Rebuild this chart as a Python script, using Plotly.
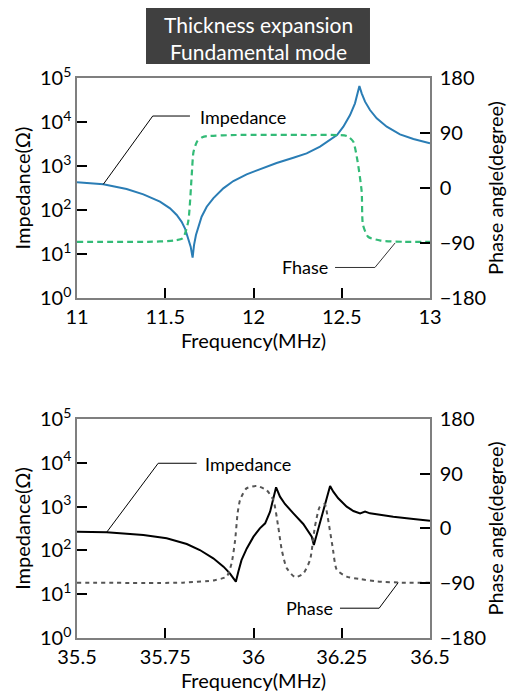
import plotly.graph_objects as go
from plotly.subplots import make_subplots

# ---------------- data: top panel (fundamental mode) ----------------
f_top_imp = [11.0, 11.149, 11.281, 11.376, 11.470, 11.527, 11.565, 11.593, 11.612, 11.631, 11.644,
             11.655, 11.663, 11.674, 11.687, 11.706, 11.735, 11.772, 11.829, 11.886, 11.961,
             12.037, 12.131, 12.226, 12.301, 12.377, 12.433, 12.473, 12.509, 12.547, 12.575,
             12.600, 12.613, 12.632, 12.660, 12.698, 12.755, 12.830, 12.906, 13.0]
z_top = [426, 383, 300, 227, 155, 109, 77, 54, 38, 22.7, 14.7,
         8.26, 16, 27, 41.8, 70.5, 119, 184, 311, 456, 647,
         855, 1170, 1545, 1940, 2750, 3900, 5070, 7830, 14400, 26600,
         65800, 44900, 29000, 18700, 12100, 7830, 5250, 4110, 3275]

f_top_ph = [11.0, 11.4, 11.55, 11.6, 11.63, 11.65, 11.66, 11.68, 11.71, 11.74, 11.9, 12.3,
            12.53, 12.565, 12.59, 12.613, 12.62, 12.65, 12.72, 12.85, 13.0]
ph_top = [-88, -88, -86, -82, -55, 21, 59, 76, 83, 85, 86.7, 86.7,
          85, 76, 43, -6, -60, -80, -86, -88, -88]

# ---------------- data: bottom panel ----------------
f_bot_imp = [35.5, 35.584, 35.688, 35.754, 35.811, 35.848, 35.886, 35.915, 35.933, 35.943,
             35.950, 35.957, 35.966, 35.981, 36.0, 36.018, 36.033, 36.047, 36.056, 36.064,
             36.075, 36.089, 36.113, 36.141, 36.165, 36.171, 36.184, 36.198, 36.207, 36.217,
             36.226, 36.240, 36.264, 36.283, 36.302, 36.316, 36.330, 36.358, 36.396, 36.453, 36.5]
z_bot = [268, 258, 225, 189, 140, 102, 66, 42.5, 30, 23,
         19.3, 32.7, 60, 111, 206, 319, 415, 766, 1415, 2754,
         1686, 1146, 702, 401, 206, 133, 319, 836, 1686, 2951,
         2193, 1545, 996, 794, 702, 766, 702, 643, 589, 521, 477]

f_bot_ph = [35.5, 35.8, 35.89, 35.924, 35.938, 35.948, 35.955, 35.962, 35.98, 36.009,
            36.037, 36.056, 36.07, 36.08, 36.094, 36.118, 36.141, 36.16, 36.174,
            36.188, 36.202, 36.21, 36.224, 36.236, 36.264, 36.3, 36.35, 36.42, 36.5]
ph_bot = [-89, -89, -85, -79, -57, -19, 25, 47, 66, 70,
          63, 47, 3, -35, -65, -80, -74, -52, 3,
          36, 40, 19, -30, -68, -79, -83, -87, -89, -89]

# leader-line anchor points (data coordinates)
lead_top_imp_x = [11.149, 11.429, 11.640]
lead_top_imp_y = [384, 13680, 13680]
lead_top_ph_x = [12.462, 12.688, 12.802]
lead_top_ph_y = [-130, -130, -90]
lead_bot_imp_x = [35.584, 35.730, 35.839]
lead_bot_imp_y = [259, 9750, 9750]
lead_bot_ph_x = [36.245, 36.356, 36.410]
lead_bot_ph_y = [-131, -131, -89]

top_xticks = [11, 11.5, 12, 12.5, 13]
bot_xticks = [35.5, 35.75, 36, 36.25, 36.5]
imp_tickvals = [1, 10, 100, 1000, 10000, 100000]
imp_ticktext = ["10<sup>0</sup>", "10<sup>1</sup>", "10<sup>2</sup>",
                "10<sup>3</sup>", "10<sup>4</sup>", "10<sup>5</sup>"]
ph_tickvals = [-180, -90, 0, 90, 180]

FONT = "Lato"
BLUE = "#2a7db5"
GREEN = "#33bb77"
GRAY = "#555555"

fig = make_subplots(rows=2, cols=1, specs=[[{"secondary_y": True}], [{"secondary_y": True}]])

# top traces
fig.add_trace(go.Scatter(x=f_top_ph, y=ph_top, mode="lines",
                         line=dict(color=GREEN, width=2.2, dash="6px,4px", shape="spline", smoothing=0.6),
                         showlegend=False, hoverinfo="skip"), row=1, col=1, secondary_y=True)
fig.add_trace(go.Scatter(x=f_top_imp, y=z_top, mode="lines", line=dict(color=BLUE, width=2),
                         showlegend=False), row=1, col=1, secondary_y=False)
fig.add_trace(go.Scatter(x=lead_top_imp_x, y=lead_top_imp_y, mode="lines", line=dict(color="black", width=1),
                         showlegend=False, hoverinfo="skip"), row=1, col=1, secondary_y=False)
fig.add_trace(go.Scatter(x=lead_top_ph_x, y=lead_top_ph_y, mode="lines", line=dict(color="#333333", width=1),
                         showlegend=False, hoverinfo="skip"), row=1, col=1, secondary_y=True)

# bottom traces
fig.add_trace(go.Scatter(x=f_bot_ph, y=ph_bot, mode="lines",
                         line=dict(color=GRAY, width=2, dash="4px,4px", shape="spline", smoothing=0.6),
                         showlegend=False, hoverinfo="skip"), row=2, col=1, secondary_y=True)
fig.add_trace(go.Scatter(x=f_bot_imp, y=z_bot, mode="lines", line=dict(color="black", width=2),
                         showlegend=False), row=2, col=1, secondary_y=False)
fig.add_trace(go.Scatter(x=lead_bot_imp_x, y=lead_bot_imp_y, mode="lines", line=dict(color="black", width=1),
                         showlegend=False, hoverinfo="skip"), row=2, col=1, secondary_y=False)
fig.add_trace(go.Scatter(x=lead_bot_ph_x, y=lead_bot_ph_y, mode="lines", line=dict(color="black", width=1),
                         showlegend=False, hoverinfo="skip"), row=2, col=1, secondary_y=True)

axis_common = dict(showline=True, linecolor="#7f7f7f", linewidth=1.5, ticks="inside", ticklen=10,
                   tickwidth=1.5, tickcolor="black", showgrid=False, zeroline=False, automargin=False,
                   tickfont=dict(family=FONT, size=20, color="black"))

xt = dict(axis_common, mirror=True, domain=[0, 1],
          title=dict(text="Frequency(MHz)", font=dict(family=FONT, size=20, color="black"), standoff=0))
fig.update_layout(
    xaxis=dict(xt, range=[11, 13], tickvals=top_xticks, ticktext=[str(v) for v in top_xticks]),
    xaxis2=dict(xt, range=[35.5, 36.5], tickvals=bot_xticks, ticktext=[str(v) for v in bot_xticks]),
)

yl = dict(axis_common, mirror=True, type="log", range=[0, 5], tickvals=imp_tickvals, ticktext=imp_ticktext,
          title=dict(text="Impedance(Ω)", font=dict(family=FONT, size=20, color="black"), standoff=4))
yr = dict(axis_common, range=[-180, 180], tickvals=ph_tickvals, ticklabelstandoff=4,
          title=dict(text="Phase angle(degree)", font=dict(family=FONT, size=20, color="black"), standoff=4))

fig.update_layout(
    yaxis=dict(yl, domain=[0.6071, 1.0]),
    yaxis2=dict(yr),
    yaxis3=dict(yl, domain=[0.0, 0.3911]),
    yaxis4=dict(yr),
)

ann_font = dict(family=FONT, size=18, color="black")
title_font = dict(family=FONT, size=21, color="white")
fig.update_layout(
    width=507, height=692,
    margin=dict(l=77, r=77, t=78, b=54, autoexpand=False),
    paper_bgcolor="white", plot_bgcolor="white",
    font=dict(family=FONT, color="black"),
    shapes=[dict(type="rect", xref="paper", yref="paper", x0=0.1955, x1=0.830, y0=1.025, y1=1.125,
                 fillcolor="#404040", line=dict(width=0), layer="above")],
    annotations=[
        dict(text="Thickness expansion", xref="paper", yref="paper", borderpad=0,
             x=0.5128, y=1.0964, xanchor="center", yanchor="middle", showarrow=False, font=title_font),
        dict(text="Fundamental mode", xref="paper", yref="paper", borderpad=0,
             x=0.5128, y=1.0482, xanchor="center", yanchor="middle", showarrow=False, font=title_font),
        dict(text="Impedance", xref="x", yref="y", x=11.686, y=4.12, xanchor="left", yanchor="middle",
             showarrow=False, font=ann_font),
        dict(text="Fhase", xref="x", yref="y2", x=12.433, y=-130, xanchor="right", yanchor="middle",
             showarrow=False, font=ann_font),
        dict(text="Impedance", xref="x2", yref="y3", x=35.857, y=3.97, xanchor="left", yanchor="middle",
             showarrow=False, font=ann_font),
        dict(text="Phase", xref="x2", yref="y4", x=36.231, y=-131, xanchor="right", yanchor="middle",
             showarrow=False, font=ann_font),
    ],
)

fig.write_html("out.html")
